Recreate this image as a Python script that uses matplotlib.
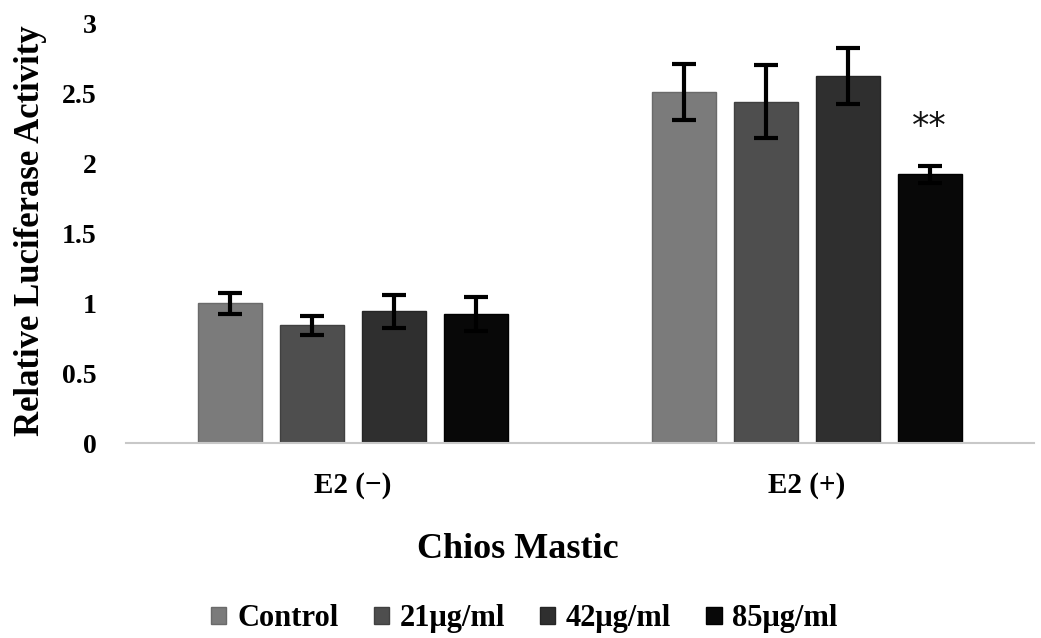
import matplotlib
matplotlib.use("Agg")
import matplotlib.pyplot as plt
import numpy as np

categories = ["E2 (\u2212)", "E2 (+)"]
series = ["Control", "21\u03bcg/ml", "42\u03bcg/ml", "85\u03bcg/ml"]
values = {
    "Control": [1.00, 2.51],
    "21\u03bcg/ml": [0.84, 2.44],
    "42\u03bcg/ml": [0.94, 2.62],
    "85\u03bcg/ml": [0.92, 1.92],
}
errors = {
    "Control": [0.075, 0.20],
    "21\u03bcg/ml": [0.07, 0.26],
    "42\u03bcg/ml": [0.12, 0.20],
    "85\u03bcg/ml": [0.12, 0.06],
}
colors = ["#7b7b7b", "#4e4e4e", "#2f2f2f", "#080808"]
edgecolors = ["#6a6a6a", "#404040", "#252525", "#000000"]
yticks = [0, 0.5, 1, 1.5, 2, 2.5, 3]
ytick_labels = ["0", "0.5", "1", "1.5", "2", "2.5", "3"]

plt.rcParams["font.family"] = ["Liberation Serif", "DejaVu Serif"]

fig = plt.figure(figsize=(10.41, 6.38), dpi=100)
ax = fig.add_axes([0.121, 0.3056, 0.872, 0.658])

x = np.arange(len(categories))
width = 0.141
step = 0.1806
for i, s in enumerate(series):
    pos = x + (i - 1.5) * step
    ax.bar(pos, values[s], width, color=colors[i], edgecolor=edgecolors[i],
           linewidth=1.0, label=s, zorder=2)
    ax.errorbar(pos, values[s], yerr=errors[s], fmt="none", ecolor="black",
                elinewidth=3, capsize=8.5, capthick=3, zorder=3)

# significance marker
ax.text(x[1] + 1.5 * step, 2.26, "**", ha="center", va="center",
        fontsize=25, family="DejaVu Sans", color="#111111")

ax.set_xlim(-0.5, 1.5)
ax.set_ylim(0, 3)
ax.set_yticks(yticks)
ax.set_yticklabels(ytick_labels, fontsize=20, fontweight="bold")
ax.set_xticks(x)
ax.set_xticklabels(categories, fontsize=21, fontweight="bold")
ax.tick_params(axis="both", length=0)
ax.tick_params(axis="y", pad=21)
ax.tick_params(axis="x", pad=21)

for sp in ["top", "right", "left"]:
    ax.spines[sp].set_visible(False)
ax.spines["bottom"].set_color("#c8c8c8")
ax.spines["bottom"].set_linewidth(1.5)

ax.set_ylabel("Relative Luciferase Activity", fontsize=25, fontweight="bold")
ax.yaxis.set_label_coords(-0.087, 0.505)
ax.set_xlabel("Chios Mastic", fontsize=26, fontweight="bold")
ax.xaxis.set_label_coords(0.432, -0.215)

ax.legend(loc="center", bbox_to_anchor=(0.439, -0.419), ncol=4, frameon=False,
          prop={"weight": "bold", "size": 22},
          handlelength=0.5, handleheight=0.5, handletextpad=0.35,
          columnspacing=1.15, borderpad=0, borderaxespad=0)

fig.savefig("out.png", dpi=100)
